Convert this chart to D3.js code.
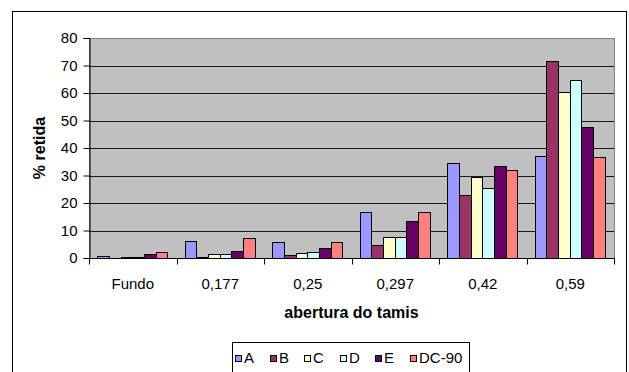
<!DOCTYPE html>
<html>
<head>
<meta charset="utf-8">
<script src="https://cdn.jsdelivr.net/npm/d3@7"></script>
<style>
  html, body { margin: 0; padding: 0; background: #fff; }
  svg { display: block; font-family: "Liberation Sans", Arial, sans-serif; }
</style>
</head>
<body>
<svg id="chart" width="629" height="372"></svg>
<script>
// Sieve apertures (mm) and percentage retained per sample
const categories = ["Fundo", "0,177", "0,25", "0,297", "0,42", "0,59"];
const seriesNames = ["A", "B", "C", "D", "E", "DC-90"];
const seriesA    = [0.5, 6.1, 5.6, 16.5, 34.5, 37.0];
const seriesB    = [0.0, 0.3, 1.0, 4.7, 22.9, 71.4];
const seriesC    = [0.3, 1.1, 1.6, 7.5, 29.3, 60.1];
const seriesD    = [0.3, 1.1, 2.1, 7.5, 25.2, 64.5];
const seriesE    = [1.2, 2.3, 3.3, 13.2, 33.2, 47.3];
const seriesDC90 = [2.0, 7.0, 5.6, 16.5, 31.8, 36.5];
const yTicks = [0, 10, 20, 30, 40, 50, 60, 70, 80];
const colors = ["#9999FF", "#993366", "#FFFFCC", "#CCFFFF", "#660066", "#FF8080"];

const seriesValues = [seriesA, seriesB, seriesC, seriesD, seriesE, seriesDC90];

const svg = d3.select("#chart");
const plot = { left: 89, right: 614, top: 38, bottom: 258 };

// outer chart frame
svg.append("rect")
  .attr("x", 12.5).attr("y", 11.5)
  .attr("width", 614).attr("height", 380)
  .attr("fill", "#fff").attr("stroke", "#000").attr("stroke-width", 1);

const x0 = d3.scaleBand().domain(categories).range([plot.left, plot.right]).padding(0);
const x1 = d3.scaleBand().domain(seriesNames).range([0, x0.bandwidth()])
  .paddingInner(0).paddingOuter(0.75);
const y = d3.scaleLinear().domain([0, 80]).range([plot.bottom, plot.top]);

// plot area
svg.append("rect")
  .attr("x", plot.left).attr("y", plot.top)
  .attr("width", plot.right - plot.left).attr("height", plot.bottom - plot.top)
  .attr("fill", "#C0C0C0").attr("stroke", "#808080").attr("stroke-width", 1)
  .attr("shape-rendering", "crispEdges");

// gridlines
svg.append("g").selectAll("line")
  .data(yTicks.filter(d => d > 0 && d < 80))
  .join("line")
  .attr("x1", plot.left).attr("x2", plot.right)
  .attr("y1", d => Math.round(y(d)) + 0.5).attr("y2", d => Math.round(y(d)) + 0.5)
  .attr("stroke", "#1a1a1a").attr("stroke-width", 1);

// bars
const groups = svg.append("g").selectAll("g")
  .data(categories)
  .join("g")
  .attr("transform", d => `translate(${x0(d)},0)`);

groups.selectAll("rect")
  .data((c, i) => seriesNames.map((s, j) => ({ s, j, v: seriesValues[j][i] })))
  .join("rect")
  .filter(d => d.v > 0)
  .attr("x", d => x1(d.s))
  .attr("y", d => y(d.v))
  .attr("width", x1.bandwidth())
  .attr("height", d => y(0) - y(d.v))
  .attr("fill", d => colors[d.j])
  .attr("stroke", "#000").attr("stroke-width", 1)
  .attr("shape-rendering", "crispEdges");

// y axis
const yAxis = d3.axisLeft(y).tickValues(yTicks).tickSize(6).tickPadding(6);
const gy = svg.append("g")
  .attr("transform", `translate(${plot.left + 0.5},0)`)
  .call(yAxis);
gy.select(".domain").attr("stroke", "#000");
gy.selectAll(".tick line").attr("stroke", "#000");
gy.selectAll(".tick text")
  .attr("font-size", 15).attr("fill", "#000")
  .attr("font-family", "Liberation Sans, Arial, sans-serif");

// x axis with ticks between categories
const gx = svg.append("g")
  .attr("transform", `translate(0,${plot.bottom + 0.5})`);
gx.append("line")
  .attr("x1", plot.left).attr("x2", plot.right + 1)
  .attr("stroke", "#000");
const boundaries = categories.map(c => x0(c)).concat([plot.right]);
gx.selectAll("line.tk")
  .data(boundaries)
  .join("line").attr("class", "tk")
  .attr("x1", d => Math.round(d) + 0.5).attr("x2", d => Math.round(d) + 0.5)
  .attr("y1", 0).attr("y2", 6)
  .attr("stroke", "#000");
gx.selectAll("text")
  .data(categories)
  .join("text")
  .attr("x", d => x0(d) + x0.bandwidth() / 2)
  .attr("y", 30)
  .attr("text-anchor", "middle")
  .attr("font-size", 15)
  .attr("fill", "#000")
  .text(d => d);

// axis titles
svg.append("text")
  .attr("x", (plot.left + plot.right) / 2)
  .attr("y", 318)
  .attr("text-anchor", "middle")
  .attr("font-size", 16).attr("font-weight", "bold")
  .text("abertura do tamis");

svg.append("text")
  .attr("transform", `translate(45,${(plot.top + plot.bottom) / 2}) rotate(-90)`)
  .attr("text-anchor", "middle")
  .attr("font-size", 16).attr("font-weight", "bold")
  .text("% retida");

// legend
const boxLeft = 232, boxRight = 469;
const legend = svg.append("g");
legend.append("rect")
  .attr("x", boxLeft + 0.5).attr("y", 342.5)
  .attr("width", boxRight - boxLeft).attr("height", 40)
  .attr("fill", "#fff").attr("stroke", "#000").attr("stroke-width", 1);

const items = seriesNames.map((name, j) => {
  const g = legend.append("g");
  g.append("rect")
    .attr("x", 0.5).attr("y", -7.5).attr("width", 6).attr("height", 6)
    .attr("fill", colors[j]).attr("stroke", "#000").attr("stroke-width", 1);
  const t = g.append("text")
    .attr("x", 9).attr("y", 0)
    .attr("font-size", 15).attr("fill", "#000")
    .text(name);
  return { g, w: 9 + t.node().getComputedTextLength() };
});
// spread entries evenly across the box
const startX = boxLeft + 3, endX = boxRight - 7;
const totalW = d3.sum(items, d => d.w);
const gap = (endX - startX - totalW) / (items.length - 1);
let cx = startX;
items.forEach(it => {
  it.g.attr("transform", `translate(${Math.round(cx)},363)`);
  cx += it.w + gap;
});
</script>
</body>
</html>
